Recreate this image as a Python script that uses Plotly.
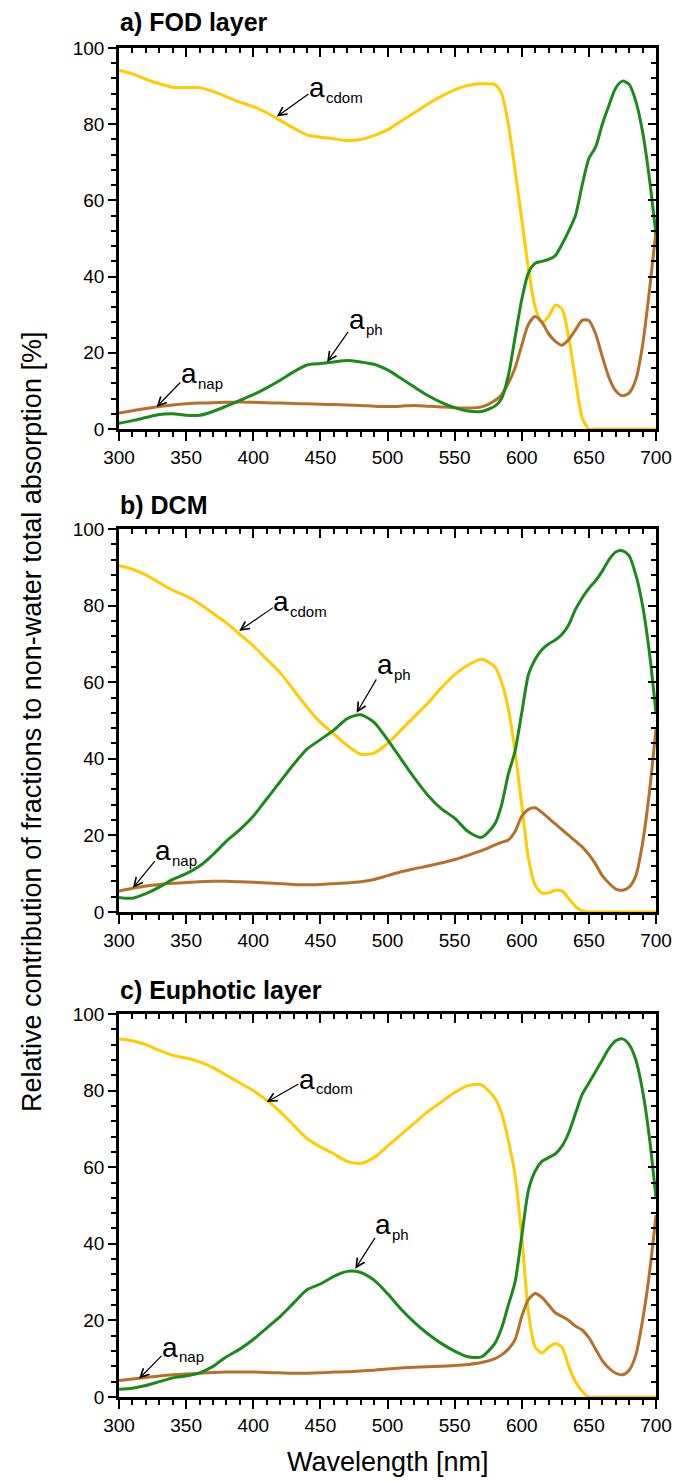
import plotly.graph_objects as go

# ---------------- data ----------------
wavelength = [300, 310, 320, 330, 340, 350, 360, 370, 380, 390, 400, 410, 420, 430, 440, 450,
              460, 470, 480, 490, 500, 510, 520, 530, 540, 550, 560, 570, 580,
              585, 590, 595, 600, 605, 610, 615, 620, 625, 630, 635, 640, 645, 650,
              655, 660, 665, 670, 675, 680, 685, 690, 695, 700]

panel_titles = ["a) FOD layer", "b) DCM", "c) Euphotic layer"]

# a) FOD layer
fod_cdom = [94.2, 93.2, 91.8, 90.6, 89.7, 89.6, 89.6, 88.6, 87.2, 85.8, 84.6, 83.0, 81.0, 79.0, 77.2, 76.6,
            76.2, 75.7, 76.0, 77.0, 78.5, 80.8, 83.0, 85.3, 87.3, 89.0, 90.2, 90.6, 90.4,
            88.0, 80.0, 68.0, 55.0, 42.0, 32.0, 28.0, 29.5, 32.5, 31.5, 24.0, 13.0, 3.0, 0.0,
            0, 0, 0, 0, 0, 0, 0, 0, 0, 0]
fod_ph = [1.5, 2.2, 3.0, 3.8, 4.0, 3.6, 3.6, 4.6, 6.0, 7.5, 9.0, 10.8, 12.8, 15.0, 16.8, 17.2,
          17.6, 18.0, 17.6, 17.0, 15.5, 13.3, 11.0, 8.8, 7.0, 5.6, 4.7, 4.6, 6.0,
          8.0, 14.0, 24.0, 34.0, 41.0, 43.5, 44.0, 44.5, 45.5, 48.5, 52.0, 56.0, 64.0, 71.0,
          74.0, 80.0, 85.0, 89.5, 91.3, 90.5, 86.0, 78.0, 66.0, 51.0]
fod_nap = [4.2, 4.8, 5.4, 5.9, 6.3, 6.6, 6.8, 6.9, 7.0, 7.1, 7.0, 6.9, 6.8, 6.7, 6.6, 6.5,
           6.4, 6.3, 6.2, 6.0, 5.9, 6.0, 6.2, 6.0, 5.8, 5.6, 5.5, 5.8, 7.5,
           9.0, 12.0, 16.0, 22.0, 27.5, 29.5, 28.0, 25.0, 23.0, 22.0, 23.5, 26.0, 28.5, 28.5,
           25.0, 19.0, 13.5, 10.0, 8.7, 9.5, 13.0, 22.0, 36.0, 52.0]

# b) DCM
dcm_cdom = [90.5, 89.5, 88.0, 86.0, 84.0, 82.5, 80.5, 78.0, 75.5, 72.5, 69.5, 66.0, 62.5, 58.0, 53.5, 49.5,
            46.5, 43.5, 41.2, 41.5, 44.0, 47.5, 51.0, 54.5, 58.5, 62.0, 64.5, 66.0, 64.0,
            60.0, 53.0, 42.0, 28.0, 14.0, 7.0, 5.0, 5.0, 5.7, 5.5, 3.5, 1.5, 0.3, 0.0,
            0, 0, 0, 0, 0, 0, 0, 0, 0, 0]
dcm_ph = [3.8, 3.6, 4.8, 6.5, 8.5, 10.0, 12.0, 15.0, 18.5, 21.5, 25.0, 29.5, 34.0, 38.5, 42.5, 45.0,
          47.5, 50.5, 51.5, 49.5, 45.0, 40.0, 35.0, 30.5, 27.0, 24.5, 21.0, 19.5, 23.0,
          28.0, 36.0, 42.0, 52.0, 62.0, 66.0, 68.5, 70.0, 71.0, 72.5, 75.0, 79.0, 82.0, 84.5,
          86.5, 89.0, 92.0, 94.0, 94.3, 93.0, 88.0, 80.0, 68.0, 52.0]
dcm_nap = [5.5, 6.2, 6.8, 7.2, 7.5, 7.7, 7.9, 8.0, 8.0, 7.9, 7.8, 7.6, 7.4, 7.2, 7.1, 7.2,
           7.4, 7.6, 7.9, 8.5, 9.5, 10.5, 11.3, 12.0, 12.8, 13.7, 14.8, 16.0, 17.5,
           18.2, 18.8, 21.0, 25.0, 26.8, 27.2, 26.0, 24.5, 23.0, 21.5, 20.0, 18.5, 17.0, 15.0,
           12.5, 9.5, 7.5, 6.0, 5.7, 6.5, 9.5, 18.0, 31.0, 48.0]

# c) Euphotic layer
eu_cdom = [93.5, 93.0, 92.0, 90.5, 89.2, 88.5, 87.5, 86.0, 84.0, 82.0, 80.0, 77.5, 74.5, 71.0, 67.5, 65.3,
           63.5, 61.5, 61.0, 62.5, 65.5, 68.5, 71.5, 74.5, 77.0, 79.5, 81.3, 81.5, 78.0,
           74.0, 67.0, 58.0, 42.0, 22.0, 13.0, 11.5, 13.0, 14.0, 13.0, 8.0, 4.0, 1.5, 0.0,
           0, 0, 0, 0, 0, 0, 0, 0, 0, 0]
eu_ph = [2.0, 2.3, 3.0, 4.0, 5.0, 5.5, 6.3, 8.0, 10.5, 12.5, 15.0, 18.0, 21.0, 24.5, 28.0, 29.5,
         31.5, 32.8, 32.5, 30.5, 27.0, 23.0, 19.5, 16.5, 14.0, 12.0, 10.5, 10.5, 14.0,
         18.0, 24.0, 30.0, 42.0, 54.0, 59.0, 61.5, 62.5, 63.5, 65.5, 69.0, 74.0, 79.0, 82.0,
         85.0, 88.0, 91.0, 93.0, 93.5, 92.0, 88.0, 80.0, 68.0, 52.0]
eu_nap = [4.3, 4.7, 5.1, 5.5, 5.8, 6.0, 6.2, 6.4, 6.5, 6.5, 6.5, 6.4, 6.3, 6.2, 6.2, 6.3,
          6.5, 6.6, 6.8, 7.0, 7.3, 7.6, 7.8, 7.9, 8.0, 8.2, 8.5, 9.0, 10.0,
          11.0, 12.5, 15.0, 21.0, 25.5, 27.0, 26.0, 24.0, 22.0, 21.0, 20.0, 18.5, 17.5, 15.5,
          12.5, 9.5, 7.5, 6.2, 5.8, 7.0, 11.0, 20.0, 32.0, 47.5]

# annotation per panel: (arrow tip x, tip y, centre of "a" x, centre of "a" y, subscript)
labels_fod = [(417.5, 82.0, 447.5, 89.5, "cdom"), (455.0, 17.6, 477.0, 28.7, "ph"), (328.0, 5.8, 352.0, 14.5, "nap")]
labels_dcm = [(389.5, 73.4, 421.0, 81.0, "cdom"), (477.0, 52.0, 498.0, 64.5, "ph"), (310.4, 6.3, 333.0, 16.0, "nap")]
labels_eu = [(410.0, 77.0, 440.0, 83.0, "cdom"), (476.0, 33.5, 497.0, 45.0, "ph"), (315.0, 4.8, 338.0, 13.0, "nap")]

x_ticks = [300, 350, 400, 450, 500, 550, 600, 650, 700]
y_ticks = [0, 20, 40, 60, 80, 100]

# ---------------- styling ----------------
C_CDOM = "#FFCC00"
C_PH = "#1B8A1B"
C_NAP = "#B5702A"
FONT = "Liberation Sans, Arial, sans-serif"
W, H = 686, 1482

x_left, x_right = 119, 656
panels_px = [(48, 429), (529, 912), (1014, 1397)]
title_px = [22, 505, 990]

fig = go.Figure()
panels = [
    (fod_cdom, fod_ph, fod_nap, labels_fod),
    (dcm_cdom, dcm_ph, dcm_nap, labels_dcm),
    (eu_cdom, eu_ph, eu_nap, labels_eu),
]

layout = dict(width=W, height=H, margin=dict(l=0, r=0, t=0, b=0, pad=0, autoexpand=False),
              autosize=False, template="none",
              paper_bgcolor="white", plot_bgcolor="white", showlegend=False,
              font=dict(family=FONT, color="black"))
annotations = []

for i, (cdom, ph, nap, labs) in enumerate(panels):
    n = i + 1
    xa = "x" if n == 1 else f"x{n}"
    ya = "y" if n == 1 else f"y{n}"
    for vals, col in ((cdom, C_CDOM), (nap, C_NAP), (ph, C_PH)):
        fig.add_trace(go.Scatter(x=wavelength, y=vals, mode="lines", xaxis=xa, yaxis=ya,
                                 line=dict(color=col, width=3, shape="spline", smoothing=0.7),
                                 hoverinfo="skip"))
    top, bot = panels_px[i]
    ydom = [1 - bot / H, 1 - top / H]
    xdom = [x_left / W, x_right / W]
    common_x = dict(range=[300, 700], showgrid=False, zeroline=False, showline=True,
                    linewidth=2.5, linecolor="black", tickmode="array", tickvals=x_ticks,
                    tickwidth=2, tickcolor="black", domain=xdom, automargin=False,
                    tickfont=dict(family=FONT, size=19, color="black"))
    common_y = dict(range=[0, 100], showgrid=False, zeroline=False, showline=True,
                    linewidth=2.5, linecolor="black", tickmode="array", tickvals=y_ticks,
                    tickwidth=2, tickcolor="black", domain=ydom, automargin=False,
                    tickfont=dict(family=FONT, size=19, color="black"))
    layout["xaxis" if n == 1 else f"xaxis{n}"] = dict(
        common_x, anchor=ya, ticks="outside", ticklen=9,
        minor=dict(dtick=10, tick0=300, ticks="outside", ticklen=5, tickwidth=2, tickcolor="black"))
    layout["yaxis" if n == 1 else f"yaxis{n}"] = dict(
        common_y, anchor=xa, ticks="outside", ticklen=8,
        minor=dict(dtick=4, tick0=0, ticks="outside", ticklen=5, tickwidth=2, tickcolor="black"))
    # mirrored axes with inward ticks
    layout[f"xaxis{n + 3}"] = dict(
        common_x, overlaying=xa, anchor=ya, side="top", ticks="inside", ticklen=9,
        showticklabels=False,
        minor=dict(dtick=10, tick0=300, ticks="inside", ticklen=5, tickwidth=2, tickcolor="black"))
    layout[f"yaxis{n + 3}"] = dict(
        common_y, overlaying=ya, anchor=xa, side="right", ticks="inside", ticklen=8,
        showticklabels=False,
        minor=dict(dtick=4, tick0=0, ticks="inside", ticklen=5, tickwidth=2, tickcolor="black"))
    fig.add_trace(go.Scatter(x=[None], y=[None], xaxis=f"x{n + 3}", yaxis=f"y{n + 3}",
                             mode="lines", hoverinfo="skip", showlegend=False))

    annotations.append(dict(text=f"<b>{panel_titles[i]}</b>", xref="paper", yref="paper",
                            x=x_left / W - 0.002, y=1 - title_px[i] / H, xanchor="left",
                            yanchor="middle", showarrow=False,
                            font=dict(family=FONT, size=25, color="black")))
    for tx, ty, lx, ly, sub in labs:
        annotations.append(dict(text="a", x=tx, y=ty, ax=lx, ay=ly,
                                xref=xa, yref=ya, axref=xa, ayref=ya, showarrow=True,
                                arrowhead=5, arrowsize=1.4, arrowwidth=1.2, arrowcolor="black",
                                standoff=0, borderpad=0,
                                font=dict(family=FONT, size=28, color="black")))
        annotations.append(dict(text=sub, x=lx, y=ly, xref=xa, yref=ya, xanchor="left",
                                yanchor="middle", xshift=8, yshift=-9.5, showarrow=False,
                                borderpad=0, font=dict(family=FONT, size=15, color="black")))

annotations.append(dict(text="Relative contribution of fractions to non-water total absorption [%]",
                        xref="paper", yref="paper", x=32 / W, y=1 - 722 / H, textangle=-90,
                        xanchor="center", yanchor="middle", showarrow=False,
                        font=dict(family=FONT, size=27, color="black")))
annotations.append(dict(text="Wavelength [nm]", xref="paper", yref="paper",
                        x=(x_left + x_right) / 2 / W, y=1 - 1462 / H, xanchor="center",
                        yanchor="middle", showarrow=False,
                        font=dict(family=FONT, size=27, color="black")))
layout["annotations"] = annotations
fig.update_layout(**layout)
fig.write_html("out.html")
